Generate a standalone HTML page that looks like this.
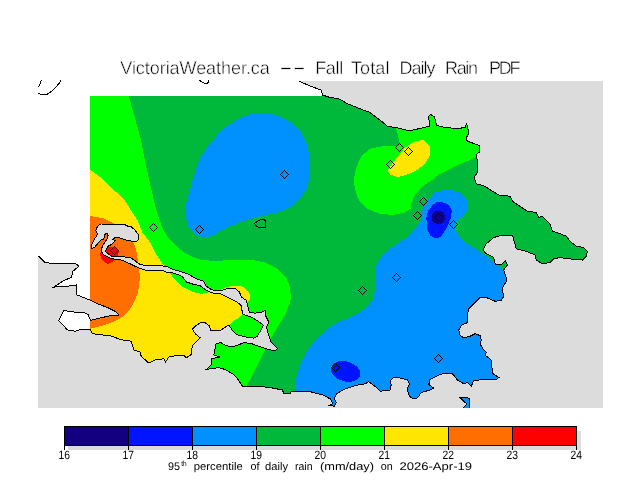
<!DOCTYPE html>
<html lang="en"><head><meta charset="utf-8"><title>VictoriaWeather.ca -- Fall Total Daily Rain PDF</title>
<style>html,body{margin:0;padding:0;background:#fff;overflow:hidden}svg{display:block}</style></head>
<body>
<svg width="640" height="480" viewBox="0 0 640 480" shape-rendering="crispEdges">
<defs><clipPath id="dc"><rect x="90" y="96" width="513" height="312"/></clipPath><clipPath id="mc"><rect x="38" y="81" width="565" height="327"/></clipPath></defs>
<rect width="640" height="480" fill="#fff"/>
<g clip-path="url(#dc)">
<rect x="90" y="96" width="513" height="312" fill="#00b93a"/>
<polygon points="90,96 128.75,96 135,118 141,140 147,170 151.5,190 155,205 158.75,217.5 163,229 167,236 172,241.5 175,245 180,249.4 186.25,253.75 193.75,257.5 201.25,259.75 210,260.6 215,261.25 232.5,259.5 250,259.5 265,262.5 277.5,268.75 286.25,277.5 290,287.5 291,297.5 290,302.5 285,315 277.5,327.5 270,340 265,350 262.5,355 256.25,367.5 250,380 246.25,386 244,408 90,408" fill="#00ff00" />
<polygon points="396,110 396.25,128.75 400,143.75 395,146.25 382.5,146.25 370,148.75 361.25,156.25 356.25,167.5 353.75,180 355,190 358.75,200 367.5,208.75 380,213.75 392.5,215 405,212.5 410.6,208.75 411.25,203.75 415,195 421.25,187.5 431.9,180 440,173.75 455,166.25 470,160 480,155 490,150 490,110" fill="#00ff00" />
<polygon points="90,169.5 100,177 113.75,190 123.75,198.75 130,208.75 137.5,220 142.5,232.5 150,242.5 155,252.5 160,260 163.75,265.6 170,273 173.75,278.75 180,285 186.25,288.75 193.75,292.25 201.25,293.75 206.25,293 210,292 215,292 225,294 237,300 243,305 242.3,313.6 240,316.7 236.9,319 232.2,321.9 229,325 221,331 211,332 200,338 200,408 90,408" fill="#ffe600" />
<polygon points="221.25,289.4 227.5,286.6 235.3,286 243.1,286.6 247.8,291 250.2,295.6 249.4,301 245,303 235,295 225,292" fill="#ffe600" />
<polygon points="387.5,170 395,160 405,147.5 415,141.25 423.75,140 430,146.25 430,155 425,163.75 417.5,170 407.5,174.5 397.5,177 390,174.5" fill="#ffe600" />
<polygon points="90,216 102.5,218 115,223.75 125,230 132.5,240 136.25,250 138.75,265 140,277.5 138,292.5 135,300 131.25,307.5 125,315 117.5,320 105,325 95,327.5 90,328.75" fill="#ff6e00" />
<polygon points="100,253 101,258 104,262 108,263.75 112,262 115,259 118,256 118.75,252 117,248 113,246.5 108,247 104,249" fill="#ff0000" />
<polygon points="245,115 258,113.5 272.5,113.75 287.5,120 300,130 307.5,145 310,162.5 309,180 306.25,190 300,198.75 290,207.5 277.5,212.5 260,216.25 242.5,221.25 227.5,227.5 213.75,235 203.75,238 196.25,235 188.75,227.5 185,215 186.25,202.5 190,190 193,178 200,158 208,146 224,128" fill="#0091ff" />
<polygon points="431.25,196.25 435,191.9 443.75,190 455,190.6 461.25,193.1 466.25,198.75 468.1,205 466.9,211.25 462.5,216.9 457.5,220 455,223.1 455,230 458.75,235.6 461.9,240 467.5,243.75 477.5,250 486.25,256.25 493.75,262.5 501.25,268.75 510,275 510,408 295,408 295,391 296.25,377.5 300,365 306.25,352.5 315,340 325,330 337.5,322.5 352.5,316.25 365,308.75 372.5,300 375,290 374.5,287.5 375,275 376.25,265 381.25,256.25 390,248.75 400,241.75 405,238.75 408.75,235 415,228.75 420,222.5 421.9,216.25 422.5,208.75 425,202.5" fill="#0091ff" />
<polygon points="426.25,217.5 428.1,210.6 432.5,205 436,202.5 440,201.9 445,202.8 448.75,205 451.9,211.25 450.6,218.75 446.25,228.75 441.25,236.25 438,238 435,238.1 430.5,235.5 427.5,230" fill="#0014ff" />
<ellipse cx="345.5" cy="371.5" rx="15" ry="10" transform="rotate(16 345.7 372)" fill="#0014ff"/>
<circle cx="438.4" cy="217.5" r="6.7" fill="#130080"/>
</g>
<g clip-path="url(#mc)">
<polygon points="298.75,81 310,86 321,90 322.5,95 330,97.5 338.75,98.75 347.5,103.75 360,108.75 370,112.5 380,120 387.5,126.25 400,128.4 409.4,130.8 420.3,128.4 429.7,126.1 428.9,119 428.1,116.7 430.5,114.4 434.4,116.7 436.7,125.3 442.2,126.9 451.6,128.1 461,128.1 465.6,127.3 466.4,123 467.5,126.9 468.75,133.1 466.4,137.8 467.2,141.25 473.4,143.3 479.7,145.6 479.7,151.9 476.6,154.2 477.3,162.8 477.3,172.2 474.2,177.7 476.25,183.75 485,186.25 492.5,191.25 498.75,195 510,196.25 512.5,201.25 520,206.25 527.5,211.25 536.25,212.5 538.75,217.5 542.5,216.25 550,223.75 552.5,231.25 560,233.75 566.25,236.25 570,241.25 576.25,246.25 583.75,247.5 587.5,251.25 586.25,256.25 582.5,260 567.5,258.75 560,257.5 553.75,258.75 550,262.5 542.5,263.75 536.25,260 535,255 526.25,251.25 516.25,248.75 513.75,240 512.5,235 502.5,235 493.75,237.5 486.25,243.75 483,250 486.25,253.75 493.75,257.5 495.5,265 501.25,264.5 505.5,260.75 507.5,265 503.75,270 507,280 502,288.75 503.75,296.25 501.25,300.5 495,301.25 487.5,298 480,297.5 475,302.5 468.75,308.75 467.5,315 467.5,322.5 461.25,325.5 458.75,330 460,335 463.75,338 470,336.25 475,333.75 480,335.5 481.25,340 480,343.75 483.75,350 486.25,352 485.5,355.5 491.25,360 492,367.5 493,373.75 498.75,377.5 495.5,380 483.75,379.5 473.75,380.5 471.25,386.25 467.5,382.5 463.75,383.75 457.5,380 452.5,373.75 442.5,373.75 436.25,376.25 430,379.5 428.75,384.5 433.75,388 430,390 421.25,392.5 417.5,398 412.5,398.25 409.5,396.25 407,388.75 409.5,383.75 407.5,380 400,378 393.75,377.5 390,381.25 391.25,384.5 390,390 380.5,391.25 375,386.25 368.75,381.75 365,383.75 355,385.6 343.8,389.4 336.3,394.1 334.4,398.4 336.3,402.5 334.4,406.3 329.7,405.3 332.5,403.5 330.6,399.1 323.1,395 310,391.6 302.5,391.25 291.25,391.25 290,393.75 283.75,393.75 282.5,390 272.5,388 260,386.25 250,387 242.5,386.25 237.5,378.75 232.5,373.75 225,369.5 218.75,367.5 206.25,369.5 211.25,365 211.25,358.75 220,357 213.75,355 215,348.75 215.8,344 220.5,342.5 225.9,345.6 232.2,346.9 238.4,344.8 244.7,342.5 252.5,344 258.75,346.4 268.1,349.5 275.2,350.6 277.5,348.75 271.25,342.5 268.1,333.1 266.6,326.9 268.9,322.2 265.8,316 265.3,310.5 261.9,312 255.6,313.1 249.4,312.8 246.25,300.3 241.6,297.2 239.2,291.7 235.3,288.6 227.5,288.6 221.25,290.6 213.4,290.2 210,288.75 206.25,286.25 203.75,281.25 196.25,278.75 188.75,274.4 180,271.25 172.5,269.4 167.5,266.9 161.25,265.6 142.5,265 138.75,263.75 135,260.6 130,257.5 123.75,256.9 117.5,256.9 111.9,256.25 108.1,253.75 105.6,251.9 106.25,248.75 108.1,246.25 110.6,245 113.1,243.1 115,240.6 113.1,239.4 115,237.25 119.4,237.75 123.75,239.4 128.1,240.6 132.5,241.25 136.9,241.25 138.5,239.4 138.75,235.6 136.9,232.5 134.4,229.4 131.25,226.9 127.5,226 125,224.75 117.5,224.4 110,224.4 101.25,224 98.75,225 96.9,227.5 95.6,230.6 96.9,232.5 97.5,234.4 96.25,236.25 94.4,239.4 92.5,242.5 91.25,246.25 91.9,248.75 95,246.9 97.5,243.75 99.4,241.25 101.25,240 103.75,239.4 104.4,236.9 105,234.4 106.9,233.1 108.1,235.6 107.5,238.1 105.6,241.25 103.75,243.75 102.5,246.25 101.25,249.4 101.9,252.5 103.75,255 107.5,256.9 111.9,258.75 116.25,259.4 121.25,260 125,261.5 130,263.75 135,266.25 141.25,268.75 145,270 162.5,270 165,271.9 171.25,272.5 177.5,274.4 182.5,276.9 186.25,281.9 193.75,284.4 200,285.6 205,289.4 210,291.9 213,293 219.7,293.3 224.4,295.6 230.6,298.75 236.9,301.9 241.6,305.8 242.3,313.6 246.25,315.6 251.7,317.2 257.2,320.6 263.4,325.3 261.1,330 257.2,336.25 254.1,338.1 246.25,337 236.9,334.7 232.2,330 229.1,325.3 226.7,326.1 221.25,330 216.6,330.8 211.1,330.8 209.5,326.1 205.6,323 200.9,322.5 196.25,325.3 192.3,329.2 195.5,333.9 200.2,337.8 196.25,341.7 192.3,345.6 191.6,351.9 191.25,354.5 186.25,358 183.75,355 176.25,355.5 168.75,357 165.5,362 163.75,358.75 155,360 148.75,363 141.25,356.25 140,352 133.75,350 131.25,341.25 120,339.5 112.5,336.25 102.5,335 92.5,333.75 90,329.5 81.25,329.5 75,331.25 67.5,330 58.75,320.5 63.75,310.5 73.75,312 83.75,312.5 88,314.5 90.5,320.5 100,318 111.25,315.5 118.75,315 115,311.25 107.5,307.5 97.5,303.75 90,300 77,295 76.25,285 67.5,286.25 53.75,287.1 63.1,281 71.6,277.2 72.5,271.6 79.1,266 75,263.25 55,263.75 45,262.5 38.75,256.25 38,256 38,408 603,408 603,81" fill="#dcdcdc" />
<polyline points="298.75,81 310,86 321,90 322.5,95 330,97.5 338.75,98.75 347.5,103.75 360,108.75 370,112.5 380,120 387.5,126.25 400,128.4 409.4,130.8 420.3,128.4 429.7,126.1 428.9,119 428.1,116.7 430.5,114.4 434.4,116.7 436.7,125.3 442.2,126.9 451.6,128.1 461,128.1 465.6,127.3 466.4,123 467.5,126.9 468.75,133.1 466.4,137.8 467.2,141.25 473.4,143.3 479.7,145.6 479.7,151.9 476.6,154.2 477.3,162.8 477.3,172.2 474.2,177.7 476.25,183.75 485,186.25 492.5,191.25 498.75,195 510,196.25 512.5,201.25 520,206.25 527.5,211.25 536.25,212.5 538.75,217.5 542.5,216.25 550,223.75 552.5,231.25 560,233.75 566.25,236.25 570,241.25 576.25,246.25 583.75,247.5 587.5,251.25 586.25,256.25 582.5,260 567.5,258.75 560,257.5 553.75,258.75 550,262.5 542.5,263.75 536.25,260 535,255 526.25,251.25 516.25,248.75 513.75,240 512.5,235 502.5,235 493.75,237.5 486.25,243.75 483,250 486.25,253.75 493.75,257.5 495.5,265 501.25,264.5 505.5,260.75 507.5,265 503.75,270 507,280 502,288.75 503.75,296.25 501.25,300.5 495,301.25 487.5,298 480,297.5 475,302.5 468.75,308.75 467.5,315 467.5,322.5 461.25,325.5 458.75,330 460,335 463.75,338 470,336.25 475,333.75 480,335.5 481.25,340 480,343.75 483.75,350 486.25,352 485.5,355.5 491.25,360 492,367.5 493,373.75 498.75,377.5 495.5,380 483.75,379.5 473.75,380.5 471.25,386.25 467.5,382.5 463.75,383.75 457.5,380 452.5,373.75 442.5,373.75 436.25,376.25 430,379.5 428.75,384.5 433.75,388 430,390 421.25,392.5 417.5,398 412.5,398.25 409.5,396.25 407,388.75 409.5,383.75 407.5,380 400,378 393.75,377.5 390,381.25 391.25,384.5 390,390 380.5,391.25 375,386.25 368.75,381.75 365,383.75 355,385.6 343.8,389.4 336.3,394.1 334.4,398.4 336.3,402.5 334.4,406.3 329.7,405.3 332.5,403.5 330.6,399.1 323.1,395 310,391.6 302.5,391.25 291.25,391.25 290,393.75 283.75,393.75 282.5,390 272.5,388 260,386.25 250,387 242.5,386.25 237.5,378.75 232.5,373.75 225,369.5 218.75,367.5 206.25,369.5 211.25,365 211.25,358.75 220,357 213.75,355 215,348.75 215.8,344 220.5,342.5 225.9,345.6 232.2,346.9 238.4,344.8 244.7,342.5 252.5,344 258.75,346.4 268.1,349.5 275.2,350.6 277.5,348.75 271.25,342.5 268.1,333.1 266.6,326.9 268.9,322.2 265.8,316 265.3,310.5 261.9,312 255.6,313.1 249.4,312.8 246.25,300.3 241.6,297.2 239.2,291.7 235.3,288.6 227.5,288.6 221.25,290.6 213.4,290.2 210,288.75 206.25,286.25 203.75,281.25 196.25,278.75 188.75,274.4 180,271.25 172.5,269.4 167.5,266.9 161.25,265.6 142.5,265 138.75,263.75 135,260.6 130,257.5 123.75,256.9 117.5,256.9 111.9,256.25 108.1,253.75 105.6,251.9 106.25,248.75 108.1,246.25 110.6,245 113.1,243.1 115,240.6 113.1,239.4 115,237.25 119.4,237.75 123.75,239.4 128.1,240.6 132.5,241.25 136.9,241.25 138.5,239.4 138.75,235.6 136.9,232.5 134.4,229.4 131.25,226.9 127.5,226 125,224.75 117.5,224.4 110,224.4 101.25,224 98.75,225 96.9,227.5 95.6,230.6 96.9,232.5 97.5,234.4 96.25,236.25 94.4,239.4 92.5,242.5 91.25,246.25 91.9,248.75 95,246.9 97.5,243.75 99.4,241.25 101.25,240 103.75,239.4 104.4,236.9 105,234.4 106.9,233.1 108.1,235.6 107.5,238.1 105.6,241.25 103.75,243.75 102.5,246.25 101.25,249.4 101.9,252.5 103.75,255 107.5,256.9 111.9,258.75 116.25,259.4 121.25,260 125,261.5 130,263.75 135,266.25 141.25,268.75 145,270 162.5,270 165,271.9 171.25,272.5 177.5,274.4 182.5,276.9 186.25,281.9 193.75,284.4 200,285.6 205,289.4 210,291.9 213,293 219.7,293.3 224.4,295.6 230.6,298.75 236.9,301.9 241.6,305.8 242.3,313.6 246.25,315.6 251.7,317.2 257.2,320.6 263.4,325.3 261.1,330 257.2,336.25 254.1,338.1 246.25,337 236.9,334.7 232.2,330 229.1,325.3 226.7,326.1 221.25,330 216.6,330.8 211.1,330.8 209.5,326.1 205.6,323 200.9,322.5 196.25,325.3 192.3,329.2 195.5,333.9 200.2,337.8 196.25,341.7 192.3,345.6 191.6,351.9 191.25,354.5 186.25,358 183.75,355 176.25,355.5 168.75,357 165.5,362 163.75,358.75 155,360 148.75,363 141.25,356.25 140,352 133.75,350 131.25,341.25 120,339.5 112.5,336.25 102.5,335 92.5,333.75 90,329.5 81.25,329.5 75,331.25 67.5,330 58.75,320.5 63.75,310.5 73.75,312 83.75,312.5 88,314.5 90.5,320.5 100,318 111.25,315.5 118.75,315 115,311.25 107.5,307.5 97.5,303.75 90,300 77,295 76.25,285 67.5,286.25 53.75,287.1 63.1,281 71.6,277.2 72.5,271.6 79.1,266 75,263.25 55,263.75 45,262.5 38.75,256.25 38,256" fill="none" stroke="#000" stroke-width="1"/>
<!--top-->
<polygon points="459.9,397.5 467.7,397.5 469.5,399 469.5,406.2 468.9,409 462,409 467,404.2" fill="#0091ff" stroke="#000" stroke-width="1"/>
</g>
<polygon points="254.5,223.5 258.5,220.5 261,219.5 264.5,219.5 265.5,221.5 265.5,227.5 258.5,227.5 256,225.5" fill="none" stroke="#000" stroke-width="1"/>
<polyline points="38.1,93.4 41.7,94.5 47.2,94.2 51.9,91.1 56.6,86.4 59.7,82.5 60.8,80" fill="none" stroke="#000" stroke-width="1"/>
<polyline points="199,80 201.25,81.5 204.5,83.5 207.5,83.5 208.5,81.5 208.75,80" fill="none" stroke="#000" stroke-width="1"/>
<polyline points="41.4,80 40.3,83.5 38.5,87.3" fill="none" stroke="#000" stroke-width="1"/>
<polygon points="280.5,174.5 284.5,170.5 288.5,174.5 284.5,178.5" fill="none" stroke="#000" stroke-width="1"/>
<polygon points="395.5,147.5 399.5,143.5 403.5,147.5 399.5,151.5" fill="none" stroke="#000" stroke-width="1"/>
<polygon points="404.5,151.5 408.5,147.5 412.5,151.5 408.5,155.5" fill="none" stroke="#000" stroke-width="1"/>
<polygon points="386.5,164.5 390.5,160.5 394.5,164.5 390.5,168.5" fill="none" stroke="#000" stroke-width="1"/>
<polygon points="149.5,227.5 153.5,223.5 157.5,227.5 153.5,231.5" fill="none" stroke="#000" stroke-width="1"/>
<polygon points="195.5,229.5 199.5,225.5 203.5,229.5 199.5,233.5" fill="none" stroke="#000" stroke-width="1"/>
<polygon points="419.5,201.5 423.5,197.5 427.5,201.5 423.5,205.5" fill="none" stroke="#000" stroke-width="1"/>
<polygon points="413.5,215.5 417.5,211.5 421.5,215.5 417.5,219.5" fill="none" stroke="#000" stroke-width="1"/>
<polygon points="434.5,217.5 438.5,213.5 442.5,217.5 438.5,221.5" fill="none" stroke="#000" stroke-width="1"/>
<polygon points="449.5,224.5 453.5,220.5 457.5,224.5 453.5,228.5" fill="none" stroke="#000" stroke-width="1"/>
<polygon points="392.5,277.5 396.5,273.5 400.5,277.5 396.5,281.5" fill="none" stroke="#000" stroke-width="1"/>
<polygon points="358.5,290.5 362.5,286.5 366.5,290.5 362.5,294.5" fill="none" stroke="#000" stroke-width="1"/>
<polygon points="331.5,367.5 335.5,363.5 339.5,367.5 335.5,371.5" fill="none" stroke="#000" stroke-width="1"/>
<polygon points="434.5,358.5 438.5,354.5 442.5,358.5 438.5,362.5" fill="none" stroke="#000" stroke-width="1"/>
<polygon points="110.5,250.5 114.5,246.5 118.5,250.5 114.5,254.5" fill="#ff0000" stroke="#400" stroke-width="1"/>
<rect x="68" y="431" width="513" height="19" fill="#dcdcdc"/>
<rect x="64" y="426" width="64" height="20" fill="#130080"/>
<rect x="128" y="426" width="64" height="20" fill="#0014ff"/>
<rect x="192" y="426" width="64" height="20" fill="#0091ff"/>
<rect x="256" y="426" width="64" height="20" fill="#00b93a"/>
<rect x="320" y="426" width="64" height="20" fill="#00ff00"/>
<rect x="384" y="426" width="64" height="20" fill="#ffe600"/>
<rect x="448" y="426" width="64" height="20" fill="#ff6e00"/>
<rect x="512" y="426" width="64" height="20" fill="#ff0000"/>
<rect x="64.5" y="426.5" width="512" height="19" fill="none" stroke="#000" stroke-width="1"/>
<line x1="64.5" y1="426" x2="64.5" y2="449.5" stroke="#000" stroke-width="1"/>
<line x1="128.5" y1="426" x2="128.5" y2="449.5" stroke="#000" stroke-width="1"/>
<line x1="192.5" y1="426" x2="192.5" y2="449.5" stroke="#000" stroke-width="1"/>
<line x1="256.5" y1="426" x2="256.5" y2="449.5" stroke="#000" stroke-width="1"/>
<line x1="320.5" y1="426" x2="320.5" y2="449.5" stroke="#000" stroke-width="1"/>
<line x1="384.5" y1="426" x2="384.5" y2="449.5" stroke="#000" stroke-width="1"/>
<line x1="448.5" y1="426" x2="448.5" y2="449.5" stroke="#000" stroke-width="1"/>
<line x1="512.5" y1="426" x2="512.5" y2="449.5" stroke="#000" stroke-width="1"/>
<line x1="576.5" y1="426" x2="576.5" y2="449.5" stroke="#000" stroke-width="1"/>
<g font-family="'Liberation Sans', sans-serif" fill="#000" style="filter:grayscale(1)" shape-rendering="auto" text-rendering="geometricPrecision">
<text x="64.25" y="459" font-size="12" text-anchor="middle" textLength="11.5" lengthAdjust="spacingAndGlyphs">16</text>
<text x="128.25" y="459" font-size="12" text-anchor="middle" textLength="11.5" lengthAdjust="spacingAndGlyphs">17</text>
<text x="192.25" y="459" font-size="12" text-anchor="middle" textLength="11.5" lengthAdjust="spacingAndGlyphs">18</text>
<text x="256.25" y="459" font-size="12" text-anchor="middle" textLength="11.5" lengthAdjust="spacingAndGlyphs">19</text>
<text x="320.25" y="459" font-size="12" text-anchor="middle" textLength="11.5" lengthAdjust="spacingAndGlyphs">20</text>
<text x="384.25" y="459" font-size="12" text-anchor="middle" textLength="11.5" lengthAdjust="spacingAndGlyphs">21</text>
<text x="448.25" y="459" font-size="12" text-anchor="middle" textLength="11.5" lengthAdjust="spacingAndGlyphs">22</text>
<text x="512.25" y="459" font-size="12" text-anchor="middle" textLength="11.5" lengthAdjust="spacingAndGlyphs">23</text>
<text x="576.25" y="459" font-size="12" text-anchor="middle" textLength="11.5" lengthAdjust="spacingAndGlyphs">24</text>
<text x="120.3" y="74.2" font-size="18" textLength="149.5" lengthAdjust="spacing" stroke="#fff" stroke-width="0.45">VictoriaWeather.ca</text>
<text x="315.2" y="74.2" font-size="18" textLength="28" lengthAdjust="spacing" stroke="#fff" stroke-width="0.45">Fall</text>
<text x="351" y="74.2" font-size="18" textLength="38.5" lengthAdjust="spacing" stroke="#fff" stroke-width="0.45">Total</text>
<text x="399.5" y="74.2" font-size="18" textLength="36" lengthAdjust="spacing" stroke="#fff" stroke-width="0.45">Daily</text>
<text x="445" y="74.2" font-size="18" textLength="33" lengthAdjust="spacing" stroke="#fff" stroke-width="0.45">Rain</text>
<text x="489" y="74.2" font-size="18" textLength="31.5" lengthAdjust="spacing" stroke="#fff" stroke-width="0.45">PDF</text>
<text transform="translate(279.3 73.3) scale(2.35 1)" font-size="17" stroke="#fff" stroke-width="0.3">--</text>
<text x="168" y="470" font-size="11" textLength="12" lengthAdjust="spacingAndGlyphs">95</text>
<text x="181.3" y="465.8" font-size="7.5" textLength="5.4" lengthAdjust="spacingAndGlyphs">th</text>
<text x="193.75" y="470" font-size="11" textLength="49" lengthAdjust="spacingAndGlyphs">percentile</text>
<text x="250.5" y="470" font-size="11" textLength="9" lengthAdjust="spacingAndGlyphs">of</text>
<text x="265" y="470" font-size="11" textLength="23" lengthAdjust="spacingAndGlyphs">daily</text>
<text x="295" y="470" font-size="11" textLength="17.5" lengthAdjust="spacingAndGlyphs">rain</text>
<text x="320" y="470" font-size="11" textLength="54" lengthAdjust="spacingAndGlyphs">(mm/day)</text>
<text x="380.75" y="470" font-size="11" textLength="12" lengthAdjust="spacingAndGlyphs">on</text>
<text x="399.5" y="470" font-size="11" textLength="72.5" lengthAdjust="spacingAndGlyphs">2026-Apr-19</text>
</g>
</svg>
</body></html>
